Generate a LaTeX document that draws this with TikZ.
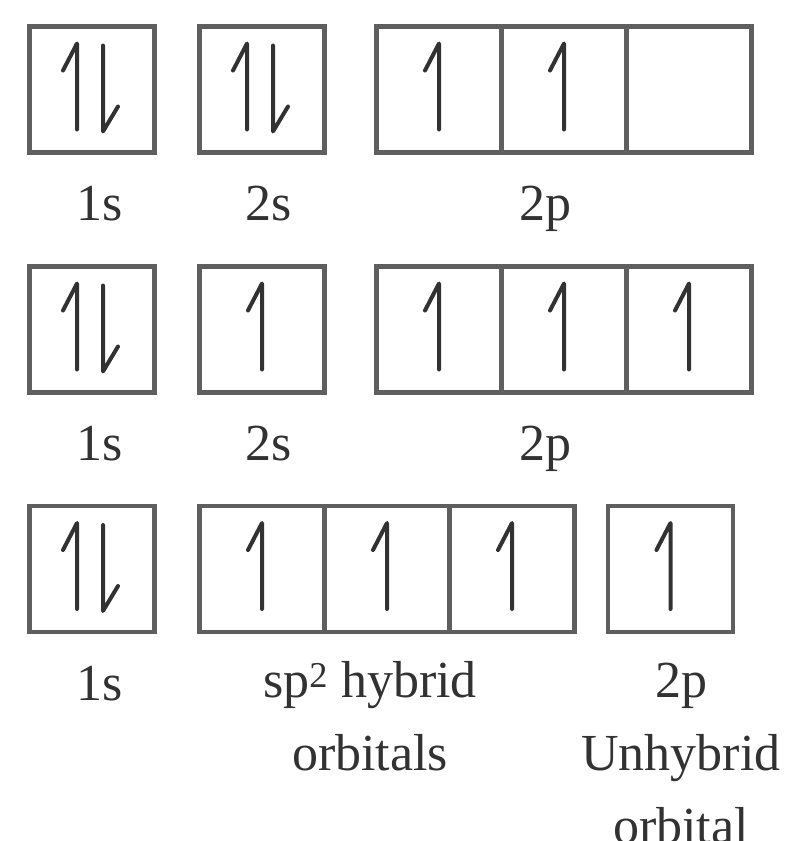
\documentclass[tikz,border=0pt]{standalone}
\usepackage{fontspec}
\setmainfont{Liberation Serif}
\usetikzlibrary{positioning}
\definecolor{boxGray}{RGB}{95,95,95}
\definecolor{inkGray}{RGB}{50,50,50}
\tikzset{
  orb/.style={draw=boxGray, line width=4.2pt, minimum width=125pt, minimum height=126pt,
              inner sep=0pt, outer sep=0pt},
  lbl/.style={font=\fontsize{52}{73}\selectfont, text=inkGray, align=center, inner sep=0pt, anchor=base},
  spin/.style={draw=inkGray, line width=4pt, line cap=round, line join=round}
}
% half-headed electron arrows, drawn round a box centre
\newcommand{\upspin}[2][0]{\draw[spin, shift={(#2)}, xshift=#1pt] (0,40) -- (0,-46) -- (-14,-19);}
\newcommand{\downspin}[2][0]{\draw[spin, shift={(#2)}, xshift=#1pt] (0,-44) -- (0,42) -- (15,17);}

\begin{document}
\begin{tikzpicture}[x=1pt, y=-1pt]
  \useasboundingbox (0,0) rectangle (795,841);

  % ground state
  \node[orb] (sOneA) at (92,89.5) {};
  \node[orb] (sTwoA) at (262,89.5) {};
  \node[orb] (pOneA) at (439,89.5) {};
  \node[orb, right=0pt of pOneA] (pTwoA) {};
  \node[orb, right=0pt of pTwoA] (pThreeA) {};
  \upspin[-15]{sOneA} \downspin[11]{sOneA}
  \upspin[-15]{sTwoA} \downspin[11]{sTwoA}
  \upspin{pOneA} \upspin{pTwoA}
  \node[lbl] (labOneA) at (100,220) {1s};
  \node[lbl] (labTwoA) at (269,220) {2s};
  \node[lbl] (labPA) at (545,220) {2p};

  % excited state
  \node[orb] (sOneB) at (92,329.5) {};
  \node[orb] (sTwoB) at (262,329.5) {};
  \node[orb] (pOneB) at (439,329.5) {};
  \node[orb, right=0pt of pOneB] (pTwoB) {};
  \node[orb, right=0pt of pTwoB] (pThreeB) {};
  \upspin[-15]{sOneB} \downspin[11]{sOneB}
  \upspin{sTwoB}
  \upspin{pOneB} \upspin{pTwoB} \upspin{pThreeB}
  \node[lbl] (labOneB) at (100,460) {1s};
  \node[lbl] (labTwoB) at (269,460) {2s};
  \node[lbl] (labPB) at (545,460) {2p};

  % hybridised state
  \node[orb] (sOneC) at (92,569) {};
  \node[orb] (hOneC) at (262,569) {};
  \node[orb, right=0pt of hOneC] (hTwoC) {};
  \node[orb, right=0pt of hTwoC] (hThreeC) {};
  \node[orb] (pOneC) at (670.5,569) {};
  \upspin[-15]{sOneC} \downspin[11]{sOneC}
  \upspin{hOneC} \upspin{hTwoC} \upspin{hThreeC}
  \upspin{pOneC}
  \node[lbl] (labOneC) at (100,700) {1s};
  \node[lbl] (labHybC) at (370,770) {sp\textsuperscript{2} hybrid\\orbitals};
  \node[lbl] (labPC) at (681,843) {2p\\Unhybrid\\orbital};
\end{tikzpicture}
\end{document}
